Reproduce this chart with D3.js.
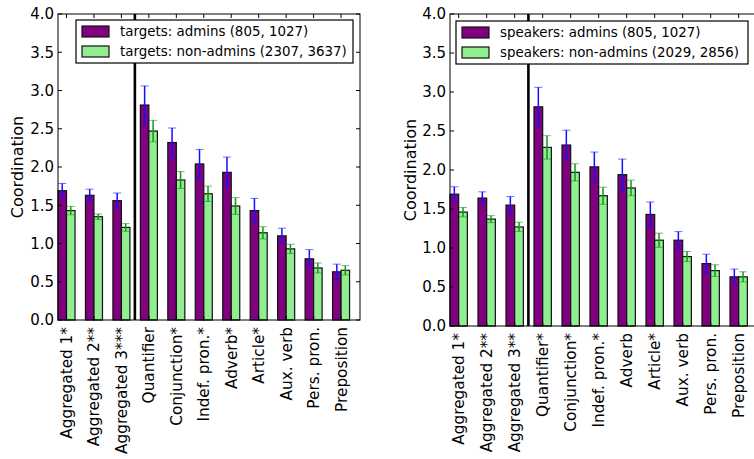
<!DOCTYPE html>
<html>
<head>
<meta charset="utf-8">
<script src="https://cdn.jsdelivr.net/npm/d3@7"></script>
<style>
  body { margin: 0; background: #fff; }
  svg { display: block; font-family: "DejaVu Sans", sans-serif; }
</style>
</head>
<body>
<svg id="chart" width="754" height="459"></svg>
<script>
const categoriesTargets = ["Aggregated 1*", "Aggregated 2**", "Aggregated 3***", "Quantifier", "Conjunction*", "Indef. pron.*", "Adverb*", "Article*", "Aux. verb", "Pers. pron.", "Preposition"];
const categoriesSpeakers = ["Aggregated 1*", "Aggregated 2**", "Aggregated 3**", "Quantifier*", "Conjunction*", "Indef. pron.*", "Adverb", "Article*", "Aux. verb", "Pers. pron.", "Preposition"];

const targetsAdmins = [1.69, 1.63, 1.56, 2.81, 2.32, 2.04, 1.93, 1.43, 1.10, 0.80, 0.63];
const targetsAdminsErr = [0.095, 0.08, 0.10, 0.25, 0.19, 0.19, 0.20, 0.16, 0.10, 0.12, 0.10];
const targetsNonAdmins = [1.43, 1.35, 1.21, 2.47, 1.83, 1.65, 1.49, 1.14, 0.93, 0.68, 0.65];
const targetsNonAdminsErr = [0.055, 0.035, 0.05, 0.14, 0.11, 0.10, 0.11, 0.08, 0.06, 0.065, 0.06];

const speakersAdmins = [1.69, 1.64, 1.55, 2.81, 2.32, 2.04, 1.94, 1.43, 1.10, 0.80, 0.63];
const speakersAdminsErr = [0.095, 0.08, 0.11, 0.25, 0.19, 0.19, 0.20, 0.16, 0.11, 0.12, 0.10];
const speakersNonAdmins = [1.46, 1.37, 1.27, 2.29, 1.97, 1.67, 1.77, 1.10, 0.89, 0.71, 0.63];
const speakersNonAdminsErr = [0.06, 0.045, 0.06, 0.15, 0.11, 0.11, 0.10, 0.09, 0.065, 0.075, 0.065];

const yTicks = [0.0, 0.5, 1.0, 1.5, 2.0, 2.5, 3.0, 3.5, 4.0];
const legendTargets = ["targets: admins (805, 1027)", "targets: non-admins (2307, 3637)"];
const legendSpeakers = ["speakers: admins (805, 1027)", "speakers: non-admins (2029, 2856)"];

const svg = d3.select("#chart");
const BAR_W = 0.31;
const SEP = 2.8;

function panel(cfg) {
  const g = svg.append("g");
  const x = d3.scaleLinear().domain([0, 11]).range([cfg.x0, cfg.x1]);
  const y = d3.scaleLinear().domain([0, 4]).range([cfg.yb, cfg.yt]);
  const n = cfg.cats.length;
  const idx = d3.range(n);

  const series = [
    {vals: cfg.a, err: cfg.ae, off: 0, fill: "#800080", ecol: "#1010ff"},
    {vals: cfg.b, err: cfg.be, off: BAR_W, fill: "#90ee90", ecol: "#12951a"}
  ];
  series.forEach(s => {
    g.append("g").selectAll("rect").data(idx).join("rect")
      .attr("x", i => x(i + s.off))
      .attr("width", i => x(i + s.off + BAR_W) - x(i + s.off))
      .attr("y", i => y(s.vals[i]))
      .attr("height", i => y(0) - y(s.vals[i]))
      .attr("fill", s.fill)
      .attr("stroke", "#111")
      .attr("stroke-width", 1.2);
  });
  series.forEach(s => {
    const eg = g.append("g").attr("stroke", s.ecol);
    idx.forEach(i => {
      const cx = x(i + s.off + BAR_W / 2);
      const hi = y(s.vals[i] + s.err[i]), lo = y(s.vals[i] - s.err[i]);
      eg.append("line").attr("x1", cx).attr("x2", cx).attr("y1", hi).attr("y2", lo).attr("stroke-width", 1.5);
      [hi, lo].forEach(v => eg.append("line").attr("x1", cx - 4).attr("x2", cx + 4)
        .attr("y1", v).attr("y2", v).attr("stroke-width", 1).attr("stroke-opacity", 0.6));
    });
  });

  g.append("line").attr("x1", x(SEP)).attr("x2", x(SEP)).attr("y1", y(4)).attr("y2", y(0))
    .attr("stroke", "#000").attr("stroke-width", 2.6);

  const tk = g.append("g").attr("stroke", "#000").attr("stroke-width", 1);
  yTicks.forEach(t => {
    tk.append("line").attr("x1", cfg.x0).attr("x2", cfg.x0 + 4).attr("y1", y(t)).attr("y2", y(t));
    tk.append("line").attr("x1", cfg.x1).attr("x2", cfg.x1 - 4).attr("y1", y(t)).attr("y2", y(t));
  });
  idx.forEach(i => {
    const cx = x(i + BAR_W);
    tk.append("line").attr("x1", cx).attr("x2", cx).attr("y1", y(4)).attr("y2", y(4) + 4);
    tk.append("line").attr("x1", cx).attr("x2", cx).attr("y1", y(0)).attr("y2", y(0) - 4);
  });

  g.append("rect").attr("x", cfg.x0).attr("y", y(4)).attr("width", cfg.x1 - cfg.x0).attr("height", y(0) - y(4))
    .attr("fill", "none").attr("stroke", "#000").attr("stroke-width", 1);

  g.append("g").selectAll("text").data(yTicks).join("text")
    .attr("x", cfg.x0 - 4).attr("y", t => y(t)).attr("dy", "0.36em")
    .attr("text-anchor", "end").attr("font-size", 15).text(t => d3.format(".1f")(t));

  g.append("g").selectAll("text").data(idx).join("text")
    .attr("transform", i => `translate(${x(i + BAR_W)},${y(0) + 7}) rotate(-90)`)
    .attr("dy", "0.36em").attr("text-anchor", "end").attr("font-size", 15.3)
    .text(i => cfg.cats[i]);

  g.append("text").attr("transform", `translate(${cfg.ylx},${(y(0) + y(4)) / 2}) rotate(-90)`)
    .attr("text-anchor", "middle").attr("dy", "0.36em").attr("font-size", 16).text("Coordination");

  const L = cfg.leg;
  const lg = g.append("g");
  lg.append("rect").attr("x", L.x).attr("y", L.y).attr("width", L.w).attr("height", L.h)
    .attr("fill", "#fff").attr("stroke", "#000").attr("stroke-width", 1.2);
  [["#800080", cfg.legText[0]], ["#90ee90", cfg.legText[1]]].forEach((d, k) => {
    const cy = L.y + 11.5 + k * 20;
    lg.append("rect").attr("x", L.x + 6).attr("y", cy - 5.5).attr("width", 27).attr("height", 11)
      .attr("fill", d[0]).attr("stroke", "#111").attr("stroke-width", 1.2);
    lg.append("text").attr("x", L.x + 44).attr("y", cy).attr("dy", "0.36em")
      .attr("font-size", 13.4).text(d[1]);
  });
}

panel({x0: 58, x1: 360, yb: 320, yt: 14, cats: categoriesTargets,
  a: targetsAdmins, ae: targetsAdminsErr, b: targetsNonAdmins, be: targetsNonAdminsErr,
  ylx: 17, leg: {x: 76, y: 20, w: 277, h: 43}, legText: legendTargets});
panel({x0: 450, x1: 758, yb: 326, yt: 14, cats: categoriesSpeakers,
  a: speakersAdmins, ae: speakersAdminsErr, b: speakersNonAdmins, be: speakersNonAdminsErr,
  ylx: 410, leg: {x: 456, y: 21, w: 292, h: 43}, legText: legendSpeakers});
</script>
</body>
</html>
